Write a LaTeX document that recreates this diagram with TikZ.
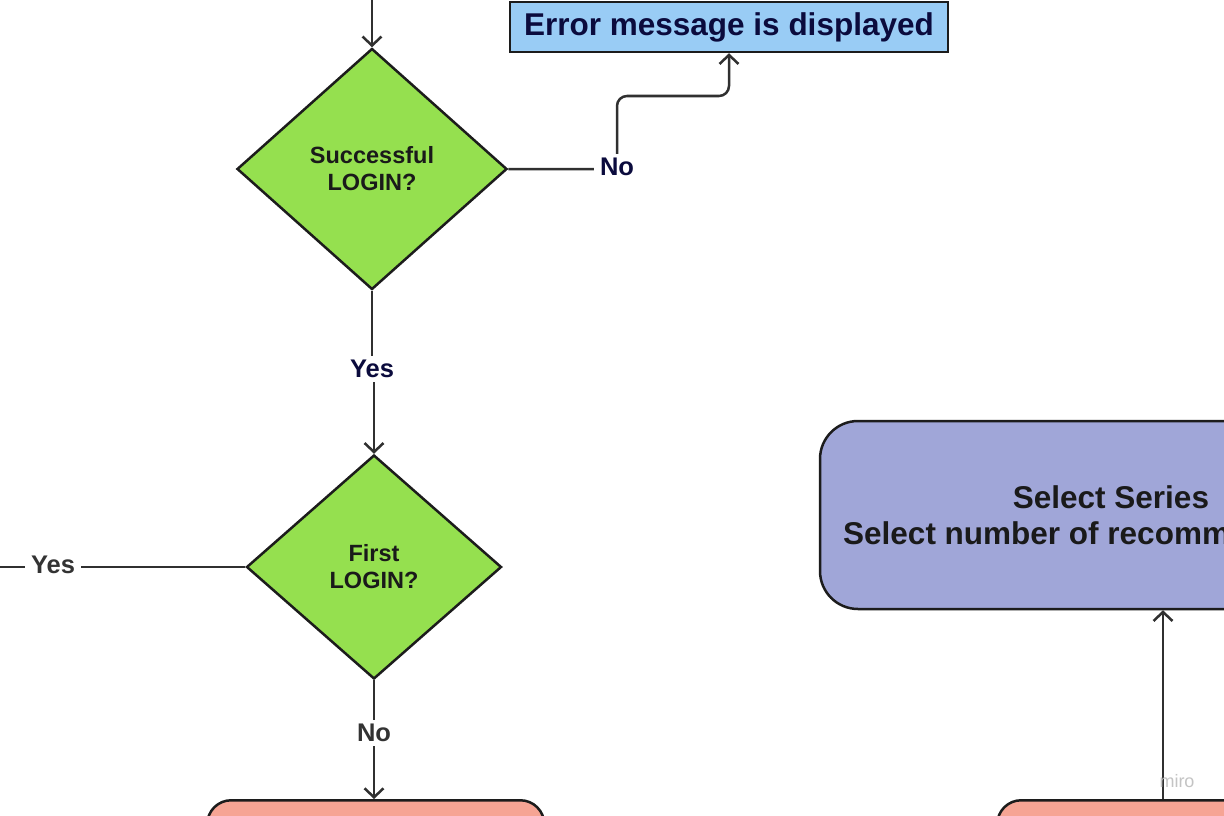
\documentclass[tikz,border=0pt]{standalone}
\usepackage{fontspec}
\setmainfont{Liberation Sans}
\usetikzlibrary{shapes.geometric,arrows.meta}
\definecolor{dgreen}{HTML}{95E04F}
\definecolor{errblue}{HTML}{99CCF5}
\definecolor{selpurple}{HTML}{A0A6D8}
\definecolor{salmon}{HTML}{F6A494}
\definecolor{edge}{HTML}{1C1C1C}
\definecolor{wire}{HTML}{303030}
\definecolor{ink}{HTML}{1A1A1A}
\definecolor{navy}{HTML}{0B0B3D}
\definecolor{labgray}{HTML}{333333}
\definecolor{mirogray}{HTML}{C4C4C4}
\pgfdeclarelayer{background}
\pgfdeclarelayer{canvas}
\pgfsetlayers{canvas,background,main}
\begin{document}
\begin{tikzpicture}[x=1pt,y=-1pt,
  dec/.style={diamond, draw=edge, fill=dgreen, line width=2.5pt, inner sep=0pt,
    align=center, text=ink, font=\fontsize{23.5}{27}\selectfont\bfseries},
  errbox/.style={rectangle, draw=edge, fill=errblue, line width=2.5pt, inner sep=0pt,
    text=navy, font=\fontsize{31.5}{36}\selectfont\bfseries},
  selbox/.style={rectangle, rounded corners=38pt, draw=edge, fill=selpurple, line width=2.5pt,
    inner sep=0pt, align=center, text=ink, font=\fontsize{31.5}{36}\selectfont\bfseries},
  salbox/.style={rectangle, rounded corners=24pt, draw=edge, fill=salmon, line width=2.5pt, inner sep=0pt},
  conn/.style={draw=wire, line width=2.5pt},
  arr/.style={conn, -{Straight Barb[length=9pt,width=19pt,line width=2.5pt]}},
  lab/.style={fill=white, inner xsep=6pt, inner ysep=4pt, font=\fontsize{25.5}{28}\selectfont\bfseries},
]
\useasboundingbox (0,0) rectangle (1224,816);
\clip (0,0) rectangle (1224,816);
\begin{pgfonlayer}{canvas}
\fill[white] (0,0) rectangle (1224,816);
\end{pgfonlayer}

% shapes
\node[dec, minimum width=270pt, minimum height=241pt] (d1) at (372,169) {Successful\\LOGIN?};
\node[dec, minimum width=255pt, minimum height=224pt] (d2) at (374,567) {First\\LOGIN?};
\node[errbox, minimum width=438pt, minimum height=50pt] (err) at (729,27) {Error message is displayed};
\node[selbox, minimum width=582pt, minimum height=188pt] (sel) at (1111,515) {Select Series\\Select number of recommendations};
\node[salbox, anchor=north west, minimum width=337pt, minimum height=100pt] (s1) at (206,799) {};
\node[salbox, anchor=north west, minimum width=400pt, minimum height=100pt] (s2) at (996,799) {};

% labels
\node[lab, text=navy] (no1) at (617,167) {No};
\node[lab, text=navy] (yes1) at (372,369) {Yes};
\node[lab, text=labgray] (yes2) at (53,565) {Yes};
\node[lab, text=labgray] (no2) at (374,733) {No};
\node[font=\fontsize{18}{18}\selectfont, text=mirogray, inner sep=0pt] (miro) at (1177,781) {miro};

% free ends
\coordinate (topin) at (372,-20);
\coordinate (leftout) at (-20,567);
\coordinate (s2out) at (1163,799);

\begin{pgfonlayer}{background}
\draw[arr] (topin) -- (d1.north);
\draw[arr, rounded corners=10pt] (d1.east) -- (no1.center |- d1.east) -- (no1.center |- 0,96) -- (err.south |- 0,96) -- (err.south);
\draw[arr] (d1.south) -- (d1.south |- yes1.center) -- (d2.north |- yes1.center) -- (d2.north);
\draw[conn] (d2.west) -- (d2.west -| leftout);
\draw[arr] (d2.south) -- (d2.south |- s1.north);
\draw[arr] (s2out) -- (s2out |- sel.south);
\end{pgfonlayer}
\end{tikzpicture}
\end{document}
